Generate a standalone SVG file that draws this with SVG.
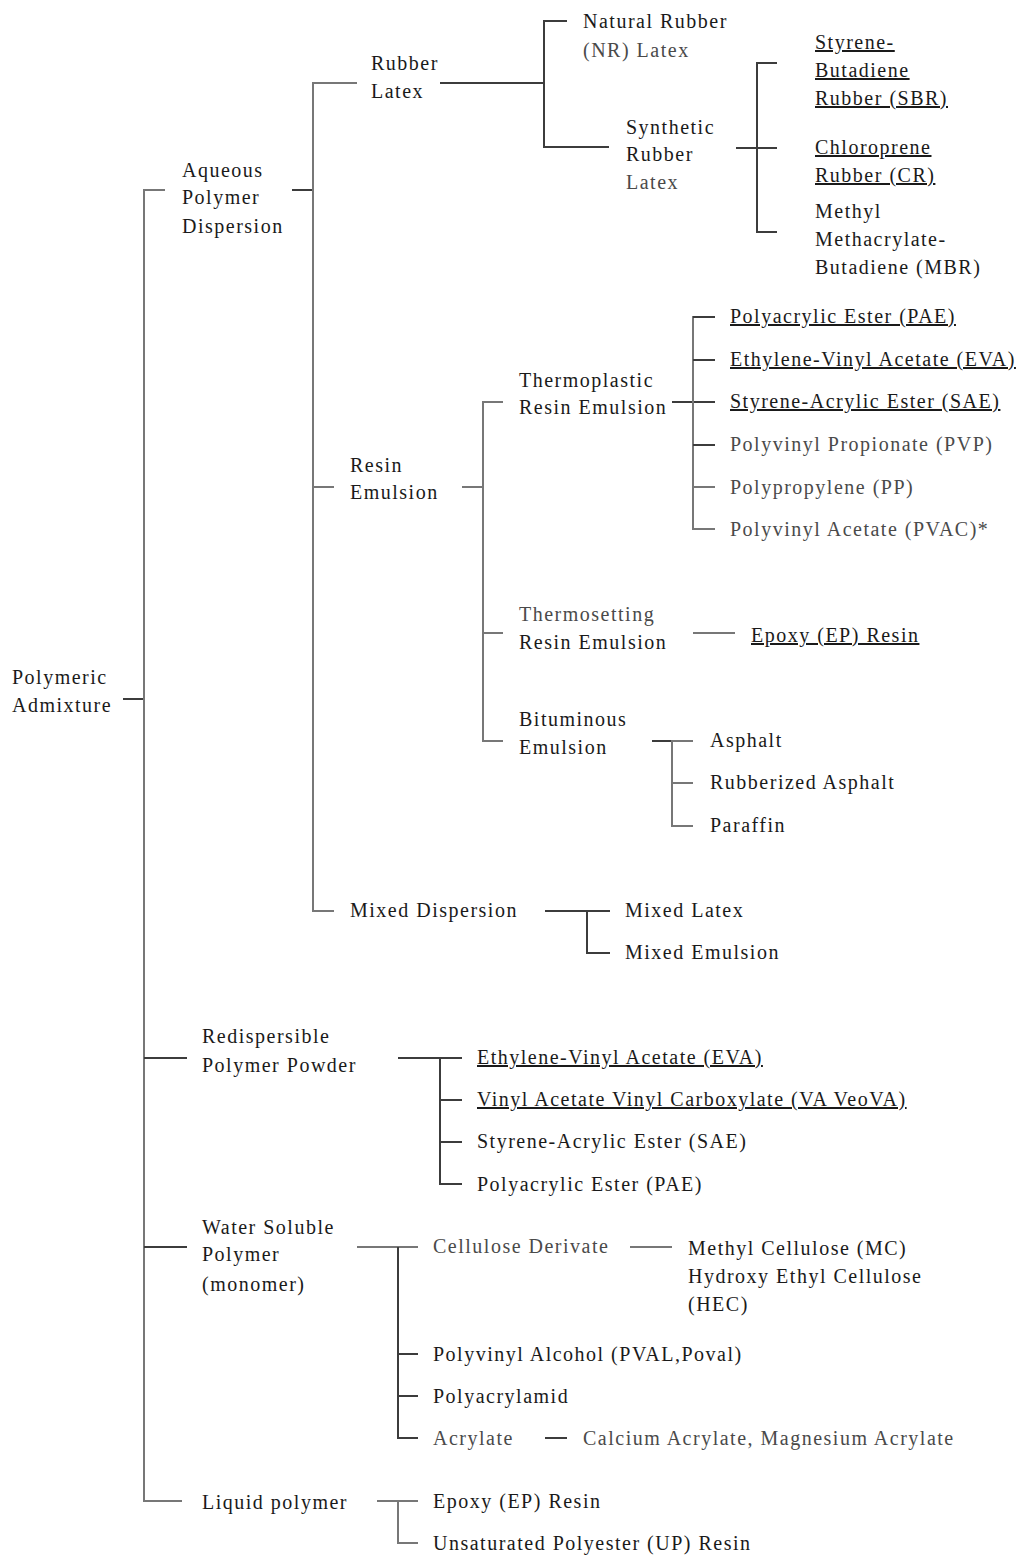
<svg xmlns="http://www.w3.org/2000/svg" width="1024" height="1557" viewBox="0 0 1024 1557">
  <style>
    .t { font-family: "Liberation Serif", "Times New Roman", serif; font-size: 20px; letter-spacing: 1.5px; fill: #1a1a1a; }
    .lt { fill: #4a4a4a; }
    .u { text-decoration: underline; }
    .c { fill: none; stroke: #3c3c3c; stroke-width: 2; }
    .cl { stroke: #777; }
  </style>
  <rect width="1024" height="1557" fill="#ffffff"/>

  <!-- tree connectors -->
  <g id="connectors">
    <!-- root -->
    <path class="c" d="M123 699 H144"/>
    <path class="c cl" d="M165 190 H144 V1501 H182"/>
    <path class="c" d="M144 1058 H187 M144 1247 H187"/>

    <!-- aqueous polymer dispersion -->
    <path class="c" d="M292 190 H313"/>
    <path class="c cl" d="M357 83 H313 V911 H334"/>
    <path class="c cl" d="M313 487 H334"/>

    <!-- rubber latex -->
    <path class="c" d="M440 83 H544"/>
    <path class="c" d="M567 21 H544 V147 H609"/>
    <path class="c" d="M736 148 H777"/>
    <path class="c" d="M777 63 H757 V232 H777"/>

    <!-- resin emulsion -->
    <path class="c cl" d="M462 487 H483"/>
    <path class="c cl" d="M503 402 H483 V741 H503"/>
    <path class="c cl" d="M483 633 H503"/>
    <path class="c" d="M672 402 H715"/>
    <path class="c cl" d="M715 317 H693 V529 H715"/>
    <path class="c" d="M693 317 H715 M693 360 H715 M693 445 H715"/>
    <path class="c cl" d="M693 487 H715"/>
    <path class="c cl" d="M693 633 H735"/>
    <path class="c" d="M652 741 H693"/>
    <path class="c cl" d="M693 741 H672 V826 H693 M672 783 H693"/>

    <!-- mixed dispersion -->
    <path class="c" d="M545 911 H610"/>
    <path class="c" d="M587 911 V953 H610"/>

    <!-- redispersible polymer powder -->
    <path class="c" d="M398 1058 H462"/>
    <path class="c" d="M440 1058 V1184 H462 M440 1100 H462 M440 1142 H462"/>

    <!-- water soluble polymer -->
    <path class="c cl" d="M357 1247 H418"/>
    <path class="c" d="M398 1247 V1438 H418 M398 1354 H418 M398 1396 H418"/>
    <path class="c cl" d="M630 1247 H672"/>
    <path class="c" d="M545 1438 H567"/>

    <!-- liquid polymer -->
    <path class="c cl" d="M377 1501 H418"/>
    <path class="c cl" d="M398 1501 V1543 H418"/>
  </g>

  <g id="polymeric-admixture">
    <text class="t" x="12"><tspan x="12" y="684">Polymeric</tspan><tspan x="12" y="712">Admixture</tspan></text>
  </g>

  <g id="aqueous-polymer-dispersion">
    <text class="t" x="182"><tspan x="182" y="177">Aqueous</tspan><tspan x="182" y="204">Polymer</tspan><tspan x="182" y="233">Dispersion</tspan></text>
  </g>

  <g id="rubber-latex">
    <text class="t" x="371"><tspan x="371" y="70">Rubber</tspan><tspan x="371" y="98">Latex</tspan></text>
  </g>
  <g id="natural-rubber-latex">
    <text class="t" x="583"><tspan x="583" y="28">Natural Rubber</tspan><tspan x="583" y="57" class="lt">(NR) Latex</tspan></text>
  </g>
  <g id="synthetic-rubber-latex">
    <text class="t" x="626"><tspan x="626" y="134">Synthetic</tspan><tspan x="626" y="161">Rubber</tspan><tspan x="626" y="189" class="lt">Latex</tspan></text>
  </g>
  <g id="sbr">
    <text class="t u" x="815"><tspan x="815" y="49">Styrene-</tspan><tspan x="815" y="77">Butadiene</tspan><tspan x="815" y="105">Rubber (SBR)</tspan></text>
  </g>
  <g id="cr">
    <text class="t u" x="815"><tspan x="815" y="154">Chloroprene</tspan><tspan x="815" y="182">Rubber (CR)</tspan></text>
  </g>
  <g id="mbr">
    <text class="t" x="815"><tspan x="815" y="218">Methyl</tspan><tspan x="815" y="246">Methacrylate-</tspan><tspan x="815" y="274">Butadiene (MBR)</tspan></text>
  </g>

  <g id="resin-emulsion">
    <text class="t" x="350"><tspan x="350" y="472">Resin</tspan><tspan x="350" y="499">Emulsion</tspan></text>
  </g>
  <g id="thermoplastic-resin-emulsion">
    <text class="t" x="519"><tspan x="519" y="387">Thermoplastic</tspan><tspan x="519" y="414">Resin Emulsion</tspan></text>
  </g>
  <g id="tp-pae"><text class="t u" x="730" y="323">Polyacrylic Ester (PAE)</text></g>
  <g id="tp-eva"><text class="t u" x="730" y="366">Ethylene-Vinyl Acetate (EVA)</text></g>
  <g id="tp-sae"><text class="t u" x="730" y="408">Styrene-Acrylic Ester (SAE)</text></g>
  <g id="tp-pvp"><text class="t lt" x="730" y="451">Polyvinyl Propionate (PVP)</text></g>
  <g id="tp-pp"><text class="t lt" x="730" y="494">Polypropylene (PP)</text></g>
  <g id="tp-pvac"><text class="t lt" x="730" y="536">Polyvinyl Acetate (PVAC)*</text></g>

  <g id="thermosetting-resin-emulsion">
    <text class="t" x="519"><tspan x="519" y="621" class="lt">Thermosetting</tspan><tspan x="519" y="649">Resin Emulsion</tspan></text>
  </g>
  <g id="ts-epoxy"><text class="t u" x="751" y="642">Epoxy (EP) Resin</text></g>

  <g id="bituminous-emulsion">
    <text class="t" x="519"><tspan x="519" y="726">Bituminous</tspan><tspan x="519" y="754">Emulsion</tspan></text>
  </g>
  <g id="asphalt"><text class="t" x="710" y="747">Asphalt</text></g>
  <g id="rubberized-asphalt"><text class="t" x="710" y="789">Rubberized Asphalt</text></g>
  <g id="paraffin"><text class="t" x="710" y="832">Paraffin</text></g>

  <g id="mixed-dispersion"><text class="t" x="350" y="917">Mixed Dispersion</text></g>
  <g id="mixed-latex"><text class="t" x="625" y="917">Mixed Latex</text></g>
  <g id="mixed-emulsion"><text class="t" x="625" y="959">Mixed Emulsion</text></g>

  <g id="redispersible-polymer-powder">
    <text class="t" x="202"><tspan x="202" y="1043">Redispersible</tspan><tspan x="202" y="1072">Polymer Powder</tspan></text>
  </g>
  <g id="rp-eva"><text class="t u" x="477" y="1064">Ethylene-Vinyl Acetate (EVA)</text></g>
  <g id="rp-vaveova"><text class="t u" x="477" y="1106">Vinyl Acetate Vinyl Carboxylate (VA VeoVA)</text></g>
  <g id="rp-sae"><text class="t" x="477" y="1148">Styrene-Acrylic Ester (SAE)</text></g>
  <g id="rp-pae"><text class="t" x="477" y="1191">Polyacrylic Ester (PAE)</text></g>

  <g id="water-soluble-polymer">
    <text class="t" x="202"><tspan x="202" y="1234">Water Soluble</tspan><tspan x="202" y="1261">Polymer</tspan><tspan x="202" y="1291">(monomer)</tspan></text>
  </g>
  <g id="cellulose-derivate"><text class="t lt" x="433" y="1253">Cellulose Derivate</text></g>
  <g id="cellulose-types">
    <text class="t" x="688"><tspan x="688" y="1255">Methyl Cellulose (MC)</tspan><tspan x="688" y="1283">Hydroxy Ethyl Cellulose</tspan><tspan x="688" y="1311">(HEC)</tspan></text>
  </g>
  <g id="pval"><text class="t" x="433" y="1361">Polyvinyl Alcohol (PVAL,Poval)</text></g>
  <g id="polyacrylamid"><text class="t" x="433" y="1403">Polyacrylamid</text></g>
  <g id="acrylate"><text class="t lt" x="433" y="1445">Acrylate</text></g>
  <g id="acrylate-types"><text class="t lt" x="583" y="1445">Calcium Acrylate, Magnesium Acrylate</text></g>

  <g id="liquid-polymer"><text class="t" x="202" y="1509">Liquid polymer</text></g>
  <g id="lp-epoxy"><text class="t" x="433" y="1508">Epoxy (EP) Resin</text></g>
  <g id="lp-up"><text class="t" x="433" y="1550">Unsaturated Polyester (UP) Resin</text></g>
</svg>
